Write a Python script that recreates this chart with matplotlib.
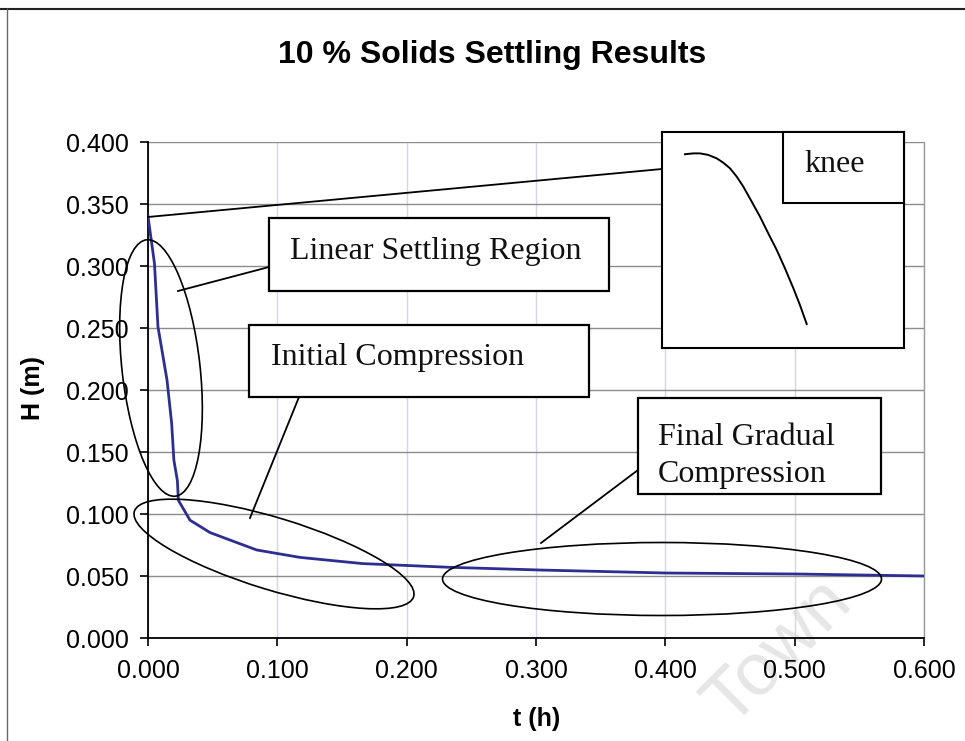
import matplotlib
matplotlib.use("Agg")
import matplotlib.pyplot as plt
from matplotlib.patches import Ellipse, Rectangle
from matplotlib.lines import Line2D
from matplotlib.transforms import Affine2D

# ---------------- data ----------------
t_h = [0.000, 0.005, 0.0077, 0.0147, 0.0183, 0.020, 0.0227, 0.0235, 0.0325,
       0.048, 0.084, 0.1175, 0.166, 0.2335, 0.304, 0.401, 0.502, 0.600]
H_m = [0.340, 0.302, 0.251, 0.208, 0.173, 0.1435, 0.127, 0.111, 0.095,
       0.085, 0.071, 0.065, 0.060, 0.057, 0.0548, 0.0524, 0.0516, 0.050]

x_ticks = [0.0, 0.1, 0.2, 0.3, 0.4, 0.5, 0.6]
y_ticks = [0.0, 0.05, 0.10, 0.15, 0.20, 0.25, 0.30, 0.35, 0.40]

# schematic "knee" sketch in the inset (unit box coordinates)
knee_x = [0.095, 0.129, 0.157, 0.191, 0.226, 0.253, 0.281, 0.309, 0.336,
          0.371, 0.405, 0.439, 0.474, 0.508, 0.543, 0.570, 0.598]
knee_y = [0.897, 0.901, 0.901, 0.894, 0.878, 0.858, 0.832, 0.793, 0.747,
          0.677, 0.608, 0.531, 0.454, 0.369, 0.276, 0.199, 0.111]

title = "10 % Solids Settling Results"
xlabel = "t (h)"
ylabel = "H (m)"

# ---------------- figure ----------------
W, Hh = 965, 741
fig = plt.figure(figsize=(W / 100, Hh / 100), dpi=100)
fig.patch.set_facecolor("white")
# pixel (y-down) transform for annotations
T = Affine2D().scale(1 / W, -1 / Hh).translate(0, 1) + fig.transFigure

sans = ["Liberation Sans", "DejaVu Sans"]
serif = ["Liberation Serif", "DejaVu Serif"]

ax = fig.add_axes([148 / W, (Hh - 638) / Hh, 776 / W, 496 / Hh], zorder=1)
ax.patch.set_visible(False)
ax.plot(t_h, H_m, color="#2e2e91", lw=2.0, zorder=3, solid_joinstyle="round")
ax.set_xlim(0, 0.6)
ax.set_ylim(0, 0.4)
ax.set_xticks(x_ticks)
ax.set_yticks(y_ticks)
ax.set_xticklabels([f"{v:.3f}" for v in x_ticks], fontfamily=sans, fontsize=18)
ax.set_yticklabels([f"{v:.3f}" for v in y_ticks], fontfamily=sans, fontsize=18)
ax.tick_params(axis="both", direction="out", length=6, width=1.2, color="black")
ax.tick_params(axis="y", pad=8)
ax.tick_params(axis="x", pad=9)
ax.yaxis.grid(True, color="#8c8c8c", lw=1.0)
ax.xaxis.grid(True, color="#d4d6e4", lw=1.0)
ax.set_axisbelow(True)
for s in ["left", "bottom"]:
    ax.spines[s].set_color("black")
    ax.spines[s].set_linewidth(1.3)
ax.spines["top"].set_visible(False)
ax.spines["right"].set_color("#9a9a9a")
ax.spines["right"].set_linewidth(1.0)

fig.text(492 / W, 1 - 55 / Hh, title, ha="center", va="center",
         fontfamily=sans, fontsize=23, fontweight="bold")
fig.text(537 / W, 1 - 719 / Hh, xlabel, ha="center", va="center",
         fontfamily=sans, fontsize=18, fontweight="bold")
fig.text(33 / W, 1 - 388 / Hh, ylabel, ha="center", va="center", rotation=90,
         fontfamily=sans, fontsize=18, fontweight="bold")

# watermark
fig.text(778 / W, 1 - 652 / Hh, "Town", ha="center", va="center", rotation=45,
         fontfamily=sans, fontsize=54, color="#e6e6e6", zorder=0)

# page border from the scan
fig.add_artist(Line2D([0, W], [9, 9], transform=T, color="#222222", lw=1.5, zorder=10))
fig.add_artist(Line2D([7, 7], [9, Hh], transform=T, color="#666666", lw=1.0, zorder=10))

# ellipses
ell_kw = dict(transform=T, fill=False, edgecolor="black", lw=1.2, zorder=5)
fig.add_artist(Ellipse((161, 368), 78, 258, angle=-6.4, **ell_kw))
fig.add_artist(Ellipse((274, 554), 292, 72, angle=17, **ell_kw))
fig.add_artist(Ellipse((662, 579), 439, 73, angle=0, **ell_kw))

# leader lines
ln_kw = dict(transform=T, color="black", lw=1.3, zorder=5)
fig.add_artist(Line2D([148, 662], [217, 169], **ln_kw))
fig.add_artist(Line2D([269, 178], [267, 291], **ln_kw))
fig.add_artist(Line2D([299, 250], [397, 518], **ln_kw))
fig.add_artist(Line2D([638, 541], [470, 543], **ln_kw))

# text boxes
box_kw = dict(transform=T, facecolor="white", edgecolor="black", lw=1.6, zorder=6)
fig.add_artist(Rectangle((269, 218), 340, 73, **box_kw))
fig.add_artist(Rectangle((249, 325), 340, 72, **box_kw))
fig.add_artist(Rectangle((638, 398), 243, 96, **box_kw))

txt_kw = dict(transform=T, fontfamily=serif, fontsize=23, color="#111111",
              ha="left", va="baseline", zorder=7)
fig.text(290, 259, "Linear Settling Region", **txt_kw)
fig.text(271, 365, "Initial Compression", **txt_kw)
fig.text(658, 445, "Final Gradual", **txt_kw)
fig.text(658, 482, "Compression", **txt_kw)

# knee inset
axi = fig.add_axes([662 / W, (Hh - 348) / Hh, 242 / W, 216 / Hh], zorder=6)
axi.set_facecolor("white")
axi.plot(knee_x, knee_y, color="black", lw=1.4, solid_joinstyle="round")
axi.set_xlim(0, 1)
axi.set_ylim(0, 1)
axi.set_xticks([])
axi.set_yticks([])
for s in axi.spines.values():
    s.set_linewidth(1.5)
    s.set_color("black")
fig.add_artist(Rectangle((783, 132), 121, 71, transform=T, facecolor="white",
                         edgecolor="black", lw=1.5, zorder=8))
fig.text(804, 172, "knee", transform=T, fontfamily=serif, fontsize=23,
         color="#111111", ha="left", va="baseline", zorder=9)

fig.savefig("out.png", dpi=100, facecolor="white")
